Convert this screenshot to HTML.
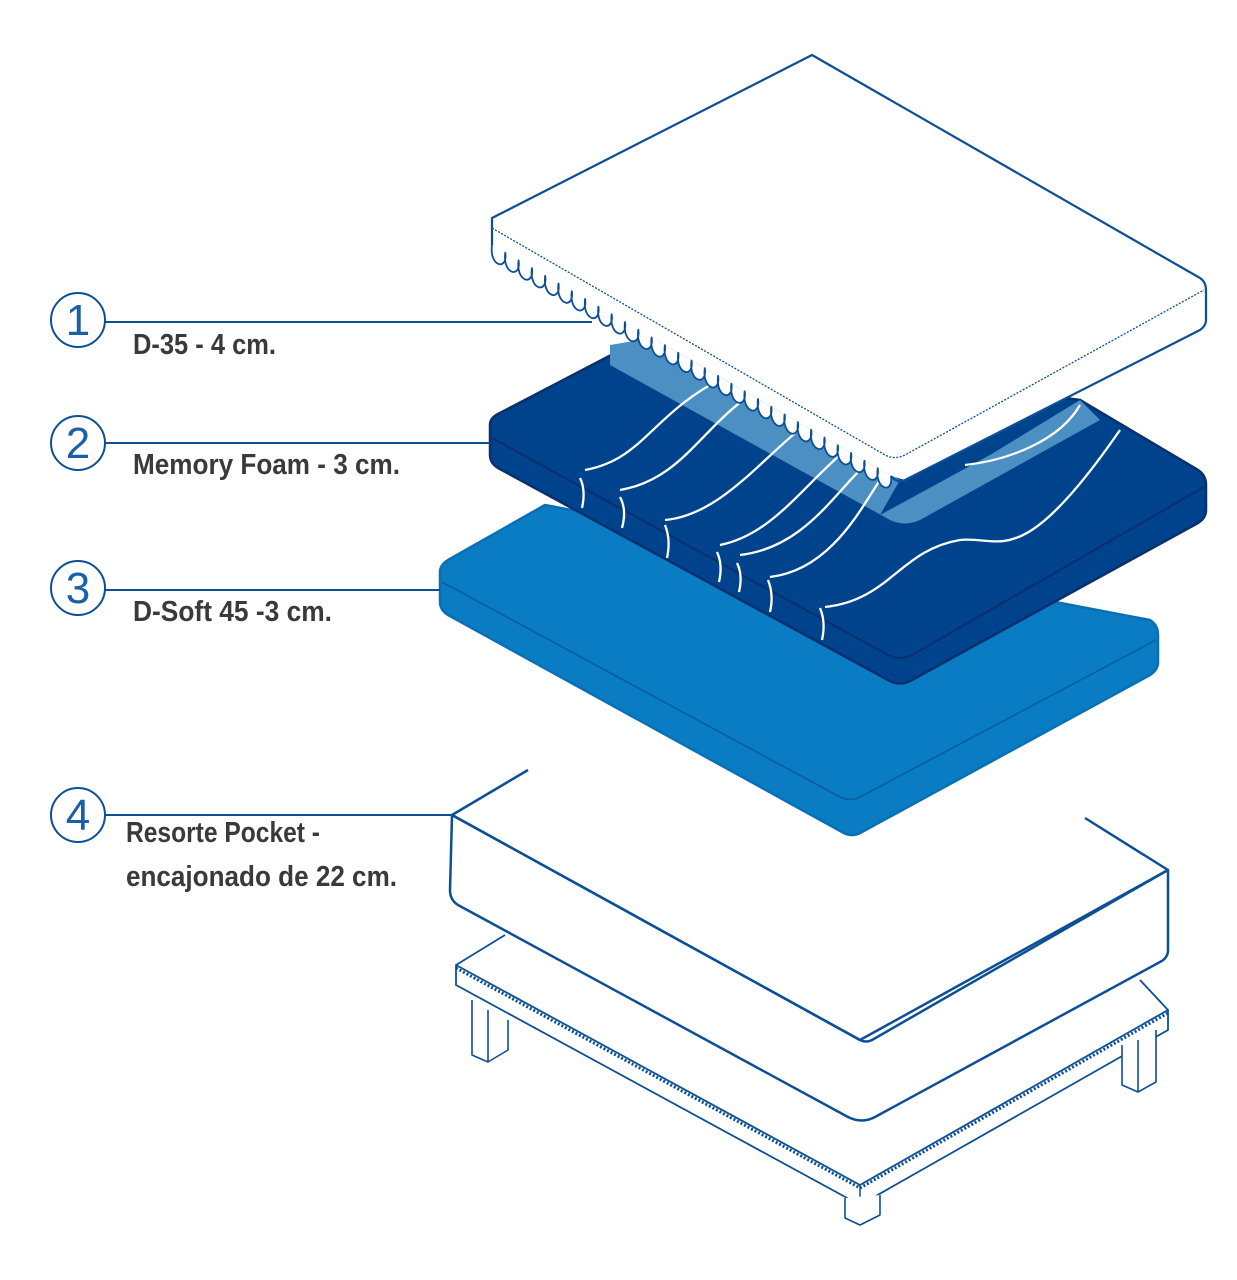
<!DOCTYPE html>
<html><head><meta charset="utf-8"><style>
html,body{margin:0;padding:0;background:#fff;}
svg{display:block}
text{font-family:"Liberation Sans",sans-serif;}
</style></head><body>
<svg width="1237" height="1280" viewBox="0 0 1237 1280" xmlns="http://www.w3.org/2000/svg">
<g fill="none" stroke="#0d4f96" stroke-width="2.5" stroke-linejoin="round">
<!-- base frame -->
<path d="M456 965 L860 1185 L1168 1010 L1168 1030 L860 1205 L456 985 Z" fill="#fff" stroke-width="1.8"/>
<path d="M456 968 L860 1188 L1168 1013" stroke-dasharray="2 2" stroke-width="3"/>
<path d="M456 965 L505 935 M1140 980 L1168 1010" stroke-width="1.8"/>
<path d="M860 1185 L860 1220" stroke-width="1.5"/>
<g stroke-width="1.6" fill="#fff">
<path d="M472 1000 L472 1055 L488 1062 L508 1050 L508 1020"/><path d="M488 1010 L488 1062"/>
<path d="M1122 1045 L1122 1085 L1138 1092 L1156 1082 L1156 1030"/><path d="M1138 1040 L1138 1092"/>
<path d="M845 1198 L845 1218 L860 1225 L880 1215 L880 1195"/>
</g>
<!-- box spring -->
<path d="M452 815 L860 1040 L1168 870 L1168 950 Q1168 958 1160 962 L875 1117 Q862 1124 848 1117 L458 905 Q450 900 450 890 Z" fill="#fff"/>
<path d="M452 815 L528 770 M1085 818 L1168 870 M452 815 L860 1040 Q866 1043 872 1040 L1168 870"/>
<!-- layer 3 light blue -->
<path d="M440 572 Q440 565 448 560 L545 505 L1150 620 Q1158 625 1158 635 L1158 662 Q1158 670 1150 675 L862 832 Q852 838 842 832 L448 615 Q440 610 440 602 Z" fill="#0a7cc4" stroke="#0a6fb5"/>
<path d="M442 582 L840 797 Q850 802 860 797 L1156 640" stroke="#0a5d9f" stroke-width="1.6"/>
<!-- layer 2 dark blue -->
<path d="M490 425 Q490 418 498 414 L640 340 L1080 400 L1198 470 Q1206 475 1206 485 L1206 510 Q1206 518 1198 523 L912 680 Q900 687 888 680 L498 468 Q490 463 490 455 Z" fill="#00438d" stroke="#0a2f6e"/>
<path d="M492 438 L888 655 Q900 661 912 655 L1204 487" stroke="#0a2f6e" stroke-width="2"/>
<path d="M610 345 L640 340 L900 480 L880 515 L990 455 L1080 400 L1100 420 L920 520 Q905 527 890 520 L610 365 Z" fill="#4c8fc2" stroke="none"/>
<g stroke="#fff" stroke-width="2.3">
<path d="M585 470 C640 460 650 420 710 385"/><path d="M620 490 C680 480 700 430 750 395"/>
<path d="M665 520 C720 515 760 460 805 425"/><path d="M720 545 C770 535 800 490 840 455"/>
<path d="M740 555 C800 548 830 500 860 470"/><path d="M770 577 C830 570 860 510 880 480"/>
<path d="M825 607 C890 600 900 550 960 540 C1000 535 1020 575 1120 430"/>
<path d="M965 465 C1010 460 1060 440 1080 405"/>
<path d="M580 478 Q586 490 582 508"/><path d="M620 497 Q627 510 622 528"/><path d="M665 525 Q671 540 667 558"/>
<path d="M717 552 Q723 565 719 582"/><path d="M737 563 Q743 575 739 592"/><path d="M768 580 Q774 595 770 612"/><path d="M820 608 Q826 622 822 640"/>
</g>
<!-- layer 1 top white -->
<path d="M492 218 L812 55 L1200 278 Q1206 282 1206 290 L1206 320 Q1206 326 1200 330 L905 480 L891 476 L492 245 Z" fill="#fff" stroke="none"/>
<path d="M492 245 L492 218 L812 55 L1200 278 Q1206 282 1206 290 L1206 320 Q1206 326 1200 330 L905 480 Q898 484 891 476" stroke-width="2.2"/>
<path d="M492 228 L885 455 Q895 460 905 455 L1204 290" stroke-width="1.3" stroke-dasharray="2 1.5"/>
<path d="M492 245 c-3 22 16 26 13.3 7.7 c-3 22 16 26 13.3 7.7 c-3 22 16 26 13.3 7.7 c-3 22 16 26 13.3 7.7 c-3 22 16 26 13.3 7.7 c-3 22 16 26 13.3 7.7 c-3 22 16 26 13.3 7.7 c-3 22 16 26 13.3 7.7 c-3 22 16 26 13.3 7.7 c-3 22 16 26 13.3 7.7 c-3 22 16 26 13.3 7.7 c-3 22 16 26 13.3 7.7 c-3 22 16 26 13.3 7.7 c-3 22 16 26 13.3 7.7 c-3 22 16 26 13.3 7.7 c-3 22 16 26 13.3 7.7 c-3 22 16 26 13.3 7.7 c-3 22 16 26 13.3 7.7 c-3 22 16 26 13.3 7.7 c-3 22 16 26 13.3 7.7 c-3 22 16 26 13.3 7.7 c-3 22 16 26 13.3 7.7 c-3 22 16 26 13.3 7.7 c-3 22 16 26 13.3 7.7 c-3 22 16 26 13.3 7.7 c-3 22 16 26 13.3 7.7 c-3 22 16 26 13.3 7.7 c-3 22 16 26 13.3 7.7 c-3 22 16 26 13.3 7.7 c-3 22 16 26 13.3 7.7" fill="#fff" stroke-width="1.8"/>
<!-- label lines -->
<path d="M105 322 L592 322 M105 443 L490 443 M105 590 L440 590 M105 815 L452 815" stroke-width="2"/>
<circle cx="78" cy="320" r="27" stroke-width="2"/><circle cx="78" cy="443" r="27" stroke-width="2"/>
<circle cx="78" cy="588" r="27" stroke-width="2"/><circle cx="78" cy="815" r="27" stroke-width="2"/>
</g>
<g fill="#1a5fa8" font-size="44" text-anchor="middle">
<text x="78" y="335">1</text><text x="78" y="458">2</text><text x="78" y="603">3</text><text x="78" y="830">4</text>
</g>
<g fill="#3a3a3a" font-size="29" font-weight="bold" lengthAdjust="spacingAndGlyphs">
<text x="133" y="354" textLength="143" lengthAdjust="spacingAndGlyphs">D-35 - 4 cm.</text>
<text x="133" y="474" textLength="267" lengthAdjust="spacingAndGlyphs">Memory Foam - 3 cm.</text>
<text x="133" y="621" textLength="199" lengthAdjust="spacingAndGlyphs">D-Soft 45 -3 cm.</text>
<text x="126" y="842" textLength="194" lengthAdjust="spacingAndGlyphs">Resorte Pocket -</text>
<text x="126" y="886" textLength="271" lengthAdjust="spacingAndGlyphs">encajonado de 22 cm.</text>
</g>
</svg>
</body></html>
